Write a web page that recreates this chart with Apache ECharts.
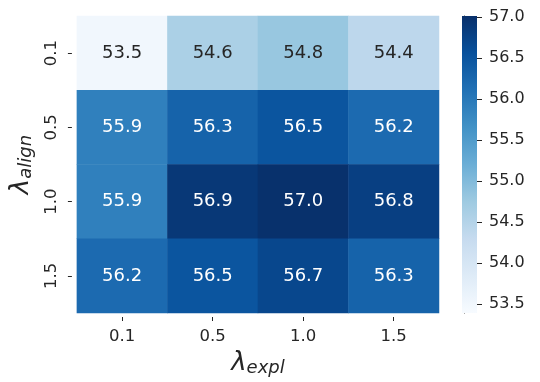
<!DOCTYPE html>
<html><head><meta charset="utf-8">
<script src="https://cdn.jsdelivr.net/npm/echarts@6/dist/echarts.min.js"></script>
<style>html,body{margin:0;padding:0;background:#fff}#c{width:540px;height:382px}</style>
</head><body><div id="c"></div>
<script>
const xCategories = ['0.1', '0.5', '1.0', '1.5'];   // lambda_expl
const yCategories = ['0.1', '0.5', '1.0', '1.5'];   // lambda_align (top to bottom)
const rowAlign01 = [53.5, 54.6, 54.8, 54.4];
const rowAlign05 = [55.9, 56.3, 56.5, 56.2];
const rowAlign10 = [55.9, 56.9, 57.0, 56.8];
const rowAlign15 = [56.2, 56.5, 56.7, 56.3];
const colorbarTicks = [53.5, 54.0, 54.5, 55.0, 55.5, 56.0, 56.5, 57.0];
const vMin = 53.39, vMax = 57.01;

const rows = [rowAlign01, rowAlign05, rowAlign10, rowAlign15];
const blues = ['#f7fbff','#deebf7','#c6dbef','#9ecae1','#6baed6','#4292c6','#2171b5','#08519c','#08306b'];
const data = [];
rows.forEach((r, yi) => r.forEach((v, xi) => {
  data.push({value: [xi, yi, v], label: {color: v < 55.3 ? '#262626' : '#ffffff'}});
}));
const gradStops = blues.map((c, i) => ({offset: 1 - i / (blues.length - 1), color: c})).reverse();
const font = 'DejaVu Sans';
const chart = echarts.init(document.getElementById('c'), null, {renderer: 'canvas'});
chart.setOption({
  animation: false,
  textStyle: {fontFamily: font},
  grid: [
    {left: 73, top: 16, width: 366, height: 297},
    {left: 462, top: 16, width: 15, height: 297},
    {left: 464, top: 16, width: 13, height: 297}
  ],
  xAxis: [
    {type: 'category', data: xCategories, gridIndex: 0, position: 'bottom', offset: 4,
     axisLine: {show: false}, axisTick: {show: true, length: 4, alignWithLabel: true, lineStyle: {color: '#262626', width: 1}},
     axisLabel: {fontSize: 16.5, color: '#262626', margin: 11, fontFamily: font},
     splitLine: {show: false},
     name: '{m|λ}{s|expl}', nameLocation: 'middle', nameGap: 29,
     nameTextStyle: {rich: {
       m: {fontSize: 26, fontStyle: 'italic', color: '#262626', fontFamily: font},
       s: {fontSize: 18, fontStyle: 'italic', color: '#262626', fontFamily: font, padding: [10, 0, 0, 0]}
     }}},
    {type: 'category', data: ['cb'], gridIndex: 1, show: false, boundaryGap: true},
    {type: 'value', gridIndex: 2, show: false, min: 0, max: 1}
  ],
  yAxis: [
    {type: 'category', data: yCategories, gridIndex: 0, inverse: true, offset: 5,
     axisLine: {show: false}, axisTick: {show: true, length: 4, alignWithLabel: true, lineStyle: {color: '#262626', width: 1}},
     axisLabel: {fontSize: 16.5, color: '#262626', rotate: 90, margin: 12, fontFamily: font},
     splitLine: {show: false},
     name: '{m|λ}{s|align}', nameLocation: 'middle', nameRotate: 90, nameGap: 36,
     nameTextStyle: {rich: {
       m: {fontSize: 26, fontStyle: 'italic', color: '#262626', fontFamily: font},
       s: {fontSize: 18, fontStyle: 'italic', color: '#262626', fontFamily: font, padding: [10, 0, 0, 0]}
     }}},
    {type: 'value', gridIndex: 1, position: 'right', min: vMin, max: vMax, z: 10,
     axisLine: {show: false}, splitLine: {show: false}, axisTick: {show: false},
     axisLabel: {show: true, fontSize: 16, color: '#262626', margin: 12, customValues: colorbarTicks,
       formatter: v => Number(v).toFixed(1), fontFamily: font}},
    {type: 'value', gridIndex: 2, position: 'left', min: vMin, max: vMax, z: 0,
     axisLine: {show: true, lineStyle: {color: '#262626', width: 1}}, splitLine: {show: false},
     axisTick: {show: true, inside: true, length: 18, customValues: colorbarTicks, lineStyle: {color: '#262626', width: 1}},
     axisLabel: {show: false}}
  ],
  visualMap: {
    type: 'continuous', show: false, min: vMin, max: vMax, seriesIndex: 0,
    inRange: {color: blues}
  },
  series: [{
    type: 'heatmap', xAxisIndex: 0, yAxisIndex: 0, data: data,
    itemStyle: {borderWidth: 0},
    label: {show: true, fontSize: 18, fontFamily: font, formatter: p => p.value[2].toFixed(1)},
    emphasis: {disabled: true}
  }, {
    type: 'bar', xAxisIndex: 1, yAxisIndex: 1, data: [vMax], barWidth: '100%', silent: true, z: 5,
    itemStyle: {color: new echarts.graphic.LinearGradient(0, 0, 0, 1, gradStops)}
  }]
});
</script></body></html>
